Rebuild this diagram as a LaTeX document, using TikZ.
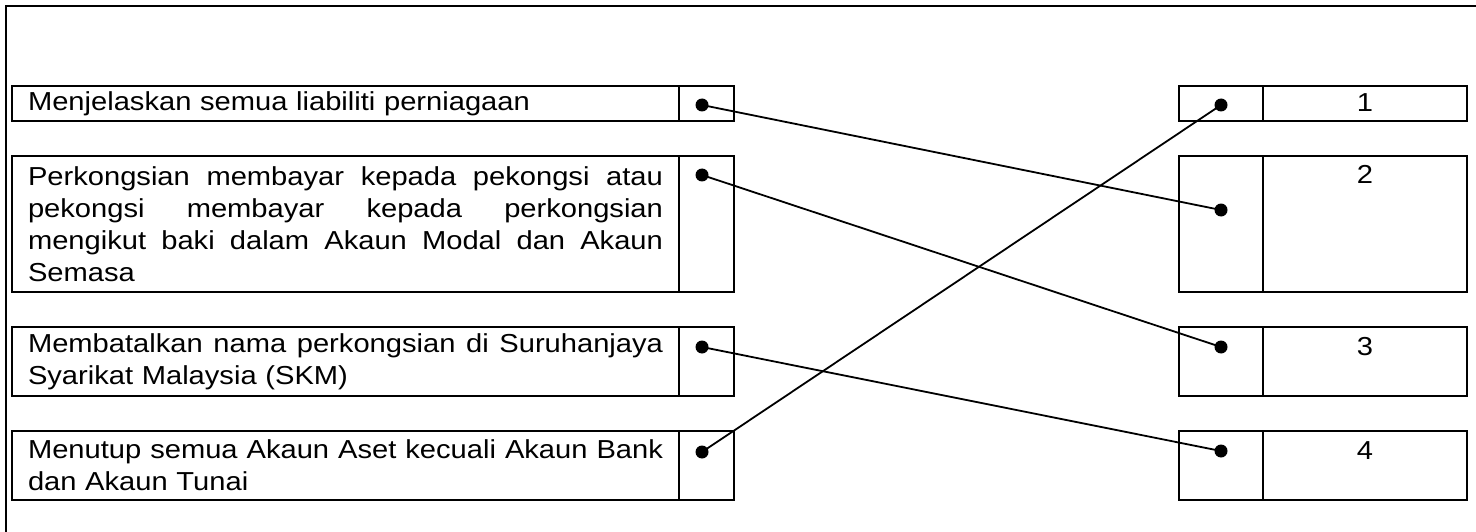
\documentclass[tikz,border=0pt]{standalone}
\usepackage{fontspec}
\newfontfamily\arialx[FakeStretch=1.12]{Liberation Sans}
\newcommand\fullline[1]{\leavevmode\hbox to 635pt{\spaceskip=0.28em plus 1fil\relax #1}}
\begin{document}
\begin{tikzpicture}[x=1pt,y=-1pt,
  cell/.style={draw,line width=2pt,anchor=north west,inner sep=0pt,outer sep=0pt},
  txt/.style={cell,minimum width=667pt,inner xsep=16pt,text width=635pt,align=left,
    font=\arialx\fontsize{26}{32}\selectfont},
  dotcell/.style={cell,minimum width=55pt},
  rdotcell/.style={cell,minimum width=84pt},
  numcell/.style={cell,minimum width=204pt},
  num/.style={anchor=base,font=\arialx\fontsize{26}{32}\selectfont},
  pt/.style={circle,fill,inner sep=0pt,minimum size=13pt},
  link/.style={line width=1.8pt}]
\useasboundingbox (0,0) rectangle (1476,532);
\fill[white] (0,0) rectangle (1476,532);
% outer frame (cropped)
\draw[line width=2pt] (1476,6) -- (6,6) -- (6,532);

% left column
\node[txt,minimum height=35pt] (t1) at (12,86) {Menjelaskan semua liabiliti perniagaan};
\node[txt,minimum height=136pt] (t2) at (12,156) {\fullline{Perkongsian membayar kepada pekongsi atau}\\
\fullline{pekongsi membayar kepada perkongsian}\\
\fullline{mengikut baki dalam Akaun Modal dan Akaun}\\
Semasa};
\node[txt,minimum height=69pt] (t3) at (12,327) {\fullline{Membatalkan nama perkongsian di Suruhanjaya}\\
Syarikat Malaysia (SKM)};
\node[txt,minimum height=69pt] (t4) at (12,431) {\fullline{Menutup semua Akaun Aset kecuali Akaun Bank}\\
dan Akaun Tunai};

\node[dotcell,minimum height=35pt] (d1) at (679,86) {};
\node[dotcell,minimum height=136pt] (d2) at (679,156) {};
\node[dotcell,minimum height=69pt] (d3) at (679,327) {};
\node[dotcell,minimum height=69pt] (d4) at (679,431) {};

% right column
\node[rdotcell,minimum height=35pt] (e1) at (1179,86) {};
\node[rdotcell,minimum height=136pt] (e2) at (1179,156) {};
\node[rdotcell,minimum height=69pt] (e3) at (1179,327) {};
\node[rdotcell,minimum height=69pt] (e4) at (1179,431) {};

\node[numcell,minimum height=35pt] (c1) at (1263,86) {};
\node[numcell,minimum height=136pt] (c2) at (1263,156) {};
\node[numcell,minimum height=69pt] (c3) at (1263,327) {};
\node[numcell,minimum height=69pt] (c4) at (1263,431) {};

\node[num] (n1) at (1365,112) {1};
\node[num] (n2) at (1365,184) {2};
\node[num] (n3) at (1365,355) {3};
\node[num] (n4) at (1365,459) {4};

% dots
\node[pt] (L1) at (702,105) {};
\node[pt] (L2) at (702,175) {};
\node[pt] (L3) at (702,347) {};
\node[pt] (L4) at (702,452) {};
\node[pt] (R1) at (1221,105) {};
\node[pt] (R2) at (1221,210) {};
\node[pt] (R3) at (1221,347) {};
\node[pt] (R4) at (1221,451) {};

% connectors
\draw[link] (L1.center) -- (R2.center);
\draw[link] (L2.center) -- (R3.center);
\draw[link] (L3.center) -- (R4.center);
\draw[link] (L4.center) -- (R1.center);
\end{tikzpicture}
\end{document}
